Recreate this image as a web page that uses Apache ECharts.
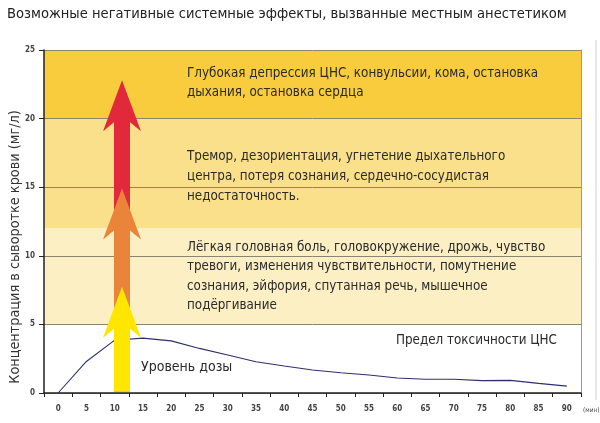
<!DOCTYPE html>
<html><head><meta charset="utf-8">
<script src="https://cdn.jsdelivr.net/npm/echarts@6/dist/echarts.min.js"></script>
<style>html,body{margin:0;padding:0;background:#fff}#c{width:600px;height:423px}</style>
</head><body><div id="c"></div>
<script>
// ---- data ----
const categories = ['0','5','10','15','20','25','30','35','40','45','50','55','60','65','70','75','80','85','90'];
const concentration = [0, 2.3, 3.85, 4.0, 3.8, 3.25, 2.77, 2.28, 1.97, 1.68, 1.48, 1.31, 1.09, 1.0, 1.0, 0.9, 0.92, 0.7, 0.5];
const bandRanges = [[5, 12], [12, 20], [20, 25]];
const arrowX = 11.3;          // minutes
const arrowBase = 0.1;        // mg/l
const arrowTips = [22.8, 14.9, 7.75]; // red, orange, yellow
const titleText = 'Возможные негативные системные эффекты, вызванные местным анестетиком';
const yName = 'Концентрация в сыворотке крови (мг/л)';
const xUnit = '(мин)';
const bandTexts = [
  'Глубокая депрессия ЦНС, конвульсии, кома, остановка\nдыхания, остановка сердца',
  'Тремор, дезориентация, угнетение дыхательного\nцентра, потеря сознания, сердечно-сосудистая\nнедостаточность.',
  'Лёгкая головная боль, головокружение, дрожь, чувство\nтревоги, изменения чувствительности, помутнение\nсознания, эйфория, спутанная речь, мышечное\nподёргивание'
];
const doseText = 'Уровень дозы';
const limitText = 'Предел токсичности ЦНС';

// ---- styles ----
const FONT = "'Liberation Sans Narrow','DejaVu Sans Condensed','Roboto Condensed',sans-serif";
const bandColors = ['#FCEFC4', '#FAE08B', '#F8CC3C'];
const arrowColors = ['#E2293B', '#E9843A', '#FFE600'];

const chart = echarts.init(document.getElementById('c'), null, {renderer: 'canvas'});

const option = {
  animation: false,
  backgroundColor: '#fff',
  grid: {left: 44, right: 19, top: 50, bottom: 30},
  xAxis: [{
    type: 'category', data: categories, boundaryGap: true,
    axisLine: {onZero: false, lineStyle: {color: '#222', width: 1.5}},
    axisTick: {show: true, length: 4, lineStyle: {color: '#222'}},
    axisLabel: {fontSize: 8, fontWeight: 'bold', color: '#444', margin: 12, fontFamily: FONT},
    splitLine: {show: false}
  }, {
    type: 'value', min: -2.5, max: 92.5, show: false
  }],
  yAxis: [{
    type: 'value', min: 0, max: 25, interval: 5,
    axisLine: {show: true, onZero: false, lineStyle: {color: '#222', width: 1.5}},
    axisTick: {show: true, length: 5, lineStyle: {color: '#222'}},
    axisLabel: {fontSize: 8, fontWeight: 'bold', color: '#444', margin: 9, fontFamily: FONT},
    splitLine: {show: true, lineStyle: {color: '#8a8570', width: 1}}
  }, {
    type: 'value', min: 0, max: 25, position: 'right',
    axisLine: {show: true, onZero: false, lineStyle: {color: '#999', width: 1}},
    axisTick: {show: false}, axisLabel: {show: false}, splitLine: {show: false}
  }],
  series: [{
    type: 'line', data: [], z: -1, silent: true,
    markArea: {
      silent: true, z: -1,
      data: bandRanges.map((r, i) => [
        {yAxis: r[0], itemStyle: {color: bandColors[i]}},
        {yAxis: r[1]}
      ])
    }
  }, {
    type: 'line', data: concentration, xAxisIndex: 0, yAxisIndex: 0,
    symbol: 'none', smooth: false,
    lineStyle: {color: '#2E2F6E', width: 1.1}, z: 3
  }, {
    type: 'custom', xAxisIndex: 1, yAxisIndex: 0, z: 4,
    data: arrowTips.map(t => [arrowX, arrowBase, t]),
    renderItem: function (params, api) {
      const idx = params.dataIndex;
      const base = api.coord([api.value(0), api.value(1)]);
      const tip = api.coord([api.value(0), api.value(2)]);
      const cx = tip[0];
      const sw = 8, hw = 19, headLen = 51, notch = 42;
      const barbY = tip[1] + headLen, notchY = tip[1] + notch;
      return {
        type: 'polygon',
        shape: {points: [
          [cx - sw, base[1]], [cx - sw, notchY], [cx - hw, barbY], [cx, tip[1]],
          [cx + hw, barbY], [cx + sw, notchY], [cx + sw, base[1]]
        ]},
        style: {fill: arrowColors[idx]}
      };
    }
  }],
  graphic: [
    {type: 'text', z: 100, left: 7, top: 7, style: {text: titleText, fontSize: 14.6, fill: '#222', fontFamily: FONT}},
    {type: 'text', z: 100, left: 187, top: 64, style: {text: bandTexts[0], fontSize: 13.3, lineHeight: 19, fill: '#2a2a2a', fontFamily: FONT}},
    {type: 'text', z: 100, left: 187, top: 147, style: {text: bandTexts[1], fontSize: 13.3, lineHeight: 19.7, fill: '#2a2a2a', fontFamily: FONT}},
    {type: 'text', z: 100, left: 187, top: 238, style: {text: bandTexts[2], fontSize: 13.3, lineHeight: 19.3, fill: '#2a2a2a', fontFamily: FONT}},
    {type: 'text', z: 100, left: 141, top: 360, style: {text: doseText, fontSize: 14, fill: '#2a2a2a', fontFamily: FONT}},
    {type: 'text', z: 100, left: 396, top: 334, style: {text: limitText, fontSize: 13.3, fill: '#2a2a2a', fontFamily: FONT}},
    {type: 'text', z: 100, x: 15, y: 247, rotation: Math.PI / 2,
     style: {text: yName, fontSize: 14.3, fill: '#333', fontFamily: FONT, align: 'center', verticalAlign: 'middle'}},
    {type: 'text', z: 100, left: 583, top: 407, style: {text: xUnit, fontSize: 6.5, fill: '#444', fontFamily: FONT}},
    {type: 'line', z: 100, shape: {x1: 596, y1: 40, x2: 596, y2: 400}, style: {stroke: '#d0d0d0', lineWidth: 1}}
  ]
};
chart.setOption(option);
</script></body></html>
